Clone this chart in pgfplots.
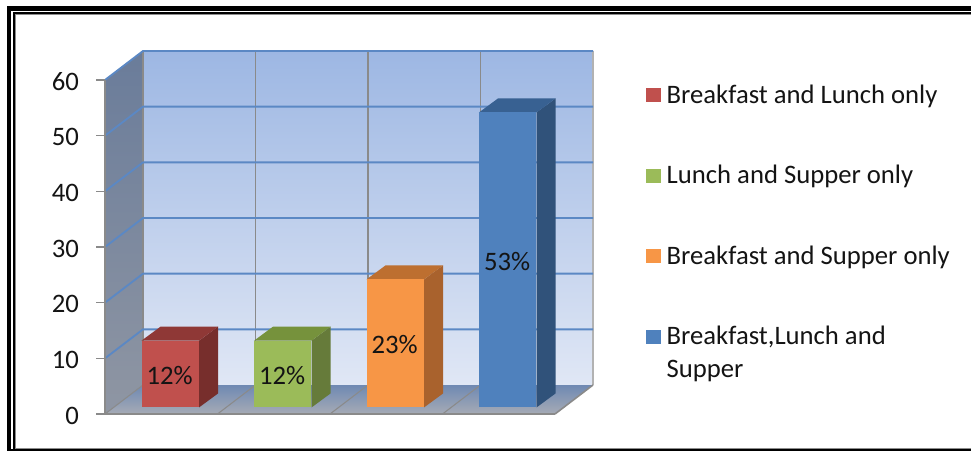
\documentclass[border=0pt]{standalone}
\usepackage{pgfplots}
\pgfplotsset{compat=1.18}
\usepackage{fontspec}
\setmainfont{Carlito}
\definecolor{axgray}{HTML}{8A8A8A}
\definecolor{gridblue}{HTML}{5B88C4}
\definecolor{sidetop}{HTML}{6A7C9A}
\definecolor{sidebot}{HTML}{8F96A3}
\definecolor{wallltop}{HTML}{9DB7E3}
\definecolor{walllbot}{HTML}{E0E7F5}
\definecolor{floortop}{HTML}{6F89B3}
\definecolor{floorbot}{HTML}{A6ABB5}
\definecolor{redF}{HTML}{C0504D}\definecolor{redS}{HTML}{772E2C}\definecolor{redT}{HTML}{8F3836}
\definecolor{greenF}{HTML}{9BBB59}\definecolor{greenS}{HTML}{667B3A}\definecolor{greenT}{HTML}{76923C}
\definecolor{orangeF}{HTML}{F79646}\definecolor{orangeS}{HTML}{A9622D}\definecolor{orangeT}{HTML}{BD6F30}
\definecolor{blueF}{HTML}{4F81BD}\definecolor{blueS}{HTML}{30527A}\definecolor{blueT}{HTML}{386192}
\begin{document}
\begin{tikzpicture}[every node/.style={text=black!92}]
\path[use as bounding box] (0,0) rectangle (728.25pt,338.25pt);
\begin{scope}[x=0.75pt,y=-0.75pt,yshift=338.25pt]
\fill[white] (0,0) rectangle (971,451);
\fill[black] (7,6) rectangle (971,10.7);
\fill[black] (7,6) rectangle (11,451);
\fill[black] (12.7,12.3) rectangle (971,13.8);
\fill[black] (12.7,12.3) rectangle (14.7,451);
\fill[black!45] (14.7,13.8) rectangle (971,15);
\fill[black!45] (14.7,13.8) rectangle (16,449);
\fill[black!45] (14.7,447.8) rectangle (971,449);
\fill[black] (7,449) rectangle (971,451);
\end{scope}
\begin{axis}[
  at={(78.75pt,27.75pt)}, anchor=south west,
  scale only axis, width=337.5pt, height=250.5pt,
  xmin=0.5, xmax=4.5, ymin=0, ymax=60,
  clip=false, axis on top,
  axis y line*=left, axis x line*=bottom,
  xtick=\empty, ytick={0,10,20,30,40,50,60},
  axis line style={draw=axgray, line width=1.2pt, -},
  tick style={draw=axgray, line width=1.2pt},
  major tick length=6.75pt, tick align=outside,
  /pgf/number format/assume math mode=true,
  yticklabel style={font=\fontsize{20}{20}\selectfont, inner sep=0pt, xshift=-12.6pt, yshift=-1.3pt},
  legend style={
    at={(axis description cs:1.2022,0.9865)}, anchor=north west,
    inner sep=0pt, draw=none, fill=none,
    font=\fontsize{20}{20}\selectfont,
    row sep=45pt, column sep=4.6pt,
    nodes={inner sep=0pt}
  },
  legend cell align=left,
  legend image code/.code={\fill[#1] (0pt,-5.25pt) rectangle (10.75pt,5.25pt);},
]
% side wall
\addplot[draw=none, forget plot, top color=sidetop, bottom color=sidebot]
 coordinates {(0.5,0) (0.5,60) (0.8378,65.21) (0.8378,5.21)} -- cycle;
% back wall
\addplot[draw=none, forget plot, top color=wallltop, bottom color=walllbot]
 coordinates {(0.8378,5.21) (0.8378,65.21) (4.8378,65.21) (4.8378,5.21)} -- cycle;
% floor
\addplot[draw=none, forget plot, top color=floortop, bottom color=floorbot]
 coordinates {(0.5,0) (4.5,0) (4.8378,5.21) (0.8378,5.21)} -- cycle;
% vertical grid on the back wall
\addplot[axgray, line width=1.4pt, forget plot] coordinates {(1.8378,5.21) (1.8378,65.21)};
\addplot[axgray, line width=1.4pt, forget plot] coordinates {(2.8378,5.21) (2.8378,65.21)};
\addplot[axgray, line width=1.4pt, forget plot] coordinates {(3.8378,5.21) (3.8378,65.21)};
\addplot[black!30, line width=1.5pt, forget plot] coordinates {(4.8378,5.21) (4.8378,65.21)};
\addplot[axgray, line width=1.2pt, forget plot] coordinates {(0.8378,5.21) (0.8378,65.21)};
% floor lines
\addplot[axgray, line width=0.8pt, forget plot] coordinates {(0.5,0) (0.8378,5.21)};
\addplot[axgray, line width=0.8pt, forget plot] coordinates {(1.5,0) (1.8378,5.21)};
\addplot[axgray, line width=0.8pt, forget plot] coordinates {(2.5,0) (2.8378,5.21)};
\addplot[axgray, line width=0.8pt, forget plot] coordinates {(3.5,0) (3.8378,5.21)};
\addplot[axgray, line width=1.2pt, forget plot] coordinates {(4.5,0) (4.8378,5.21)};
% horizontal grid
\addplot[gridblue, line width=1.4pt, forget plot] coordinates {(0.5,10) (0.8378,15.21) (4.8378,15.21)};
\addplot[gridblue, line width=1.4pt, forget plot] coordinates {(0.5,20) (0.8378,25.21) (4.8378,25.21)};
\addplot[gridblue, line width=1.4pt, forget plot] coordinates {(0.5,30) (0.8378,35.21) (4.8378,35.21)};
\addplot[gridblue, line width=1.4pt, forget plot] coordinates {(0.5,40) (0.8378,45.21) (4.8378,45.21)};
\addplot[gridblue, line width=1.4pt, forget plot] coordinates {(0.5,50) (0.8378,55.21) (4.8378,55.21)};
\addplot[gridblue, line width=1.4pt, forget plot] coordinates {(0.5,60) (0.8378,65.21) (4.8378,65.21)};
% bars: front faces from the values, side and top faces for the depth
\pgfplotsset{barplane/.style={xshift=6.75pt, yshift=4.9pt, forget plot, draw=none}}
% red, 12
\addplot[barplane, fill=redS] coordinates {(1.2556,0) (1.2556,12) (1.4246,14.515) (1.4246,2.515)} -- cycle;
\addplot[barplane, fill=redT] coordinates {(0.7444,12) (1.2556,12) (1.4246,14.515) (0.9134,14.515)} -- cycle;
\addplot[barplane, ybar, bar width=43.1pt, bar shift=0pt, fill=redF] coordinates {(1,12)};
% green, 12
\addplot[barplane, fill=greenS] coordinates {(2.2556,0) (2.2556,12) (2.4246,14.515) (2.4246,2.515)} -- cycle;
\addplot[barplane, fill=greenT] coordinates {(1.7444,12) (2.2556,12) (2.4246,14.515) (1.9134,14.515)} -- cycle;
\addplot[barplane, ybar, bar width=43.1pt, bar shift=0pt, fill=greenF] coordinates {(2,12)};
% orange, 23
\addplot[barplane, fill=orangeS] coordinates {(3.2556,0) (3.2556,23) (3.4246,25.515) (3.4246,2.515)} -- cycle;
\addplot[barplane, fill=orangeT] coordinates {(2.7444,23) (3.2556,23) (3.4246,25.515) (2.9134,25.515)} -- cycle;
\addplot[barplane, ybar, bar width=43.1pt, bar shift=0pt, fill=orangeF] coordinates {(3,23)};
% blue, 53
\addplot[barplane, fill=blueS] coordinates {(4.2556,0) (4.2556,53) (4.4246,55.515) (4.4246,2.515)} -- cycle;
\addplot[barplane, fill=blueT] coordinates {(3.7444,53) (4.2556,53) (4.4246,55.515) (3.9134,55.515)} -- cycle;
\addplot[barplane, ybar, bar width=43.1pt, bar shift=0pt, fill=blueF] coordinates {(4,53)};
% data labels at mid-height of each bar
\addplot[barplane, only marks, mark=none, point meta=explicit symbolic,
  nodes near coords, nodes near coords style={anchor=center, font=\fontsize{20}{20}\selectfont, inner sep=0pt, yshift=-0.9pt, xshift=-0.5pt}]
 coordinates {(1,6)[12\%] (2,6)[12\%] (3,11.5)[23\%] (4,26.5)[53\%]};
% legend
\addlegendimage{fill=redF, draw=none}
\addlegendentry{Breakfast and Lunch only}
\addlegendimage{fill=greenF, draw=none}
\addlegendentry{Lunch and Supper only}
\addlegendimage{fill=orangeF, draw=none}
\addlegendentry{Breakfast and Supper only}
\addlegendimage{fill=blueF, draw=none}
\addlegendentry{\parbox[t]{225pt}{\setlength{\baselineskip}{24.2pt}Breakfast,Lunch and\\Supper}}
\end{axis}
\end{tikzpicture}
\end{document}
